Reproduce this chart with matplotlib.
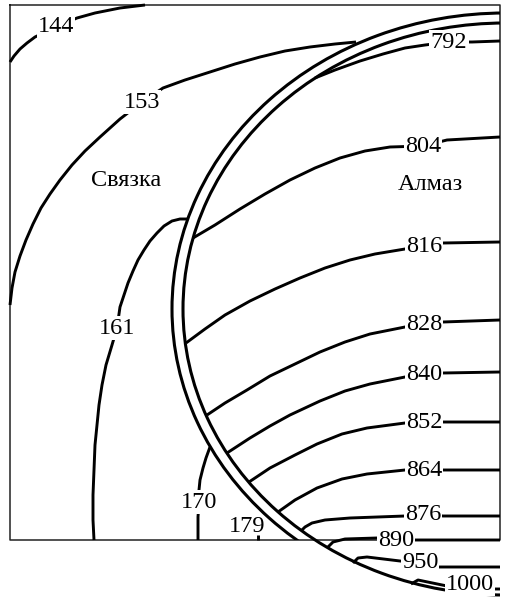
import matplotlib
matplotlib.use("Agg")
import matplotlib.pyplot as plt
from matplotlib.patches import Arc, Rectangle

# isotherms, points (x, y in image pixels, y downwards)
iso_144 = [(10, 62), (14, 56), (20, 49), (27, 43), (35, 37), (56, 27), (77, 18), (95, 13),
           (120, 8), (145, 5)]
iso_153 = [(10, 305), (12, 288), (15, 272), (20, 256), (26, 240), (33, 224), (41, 208),
           (50, 194), (60, 180), (72, 165), (85, 151), (100, 137), (120, 119), (142, 102),
           (163, 88), (185, 80), (210, 72), (235, 64), (260, 57), (285, 51), (310, 47),
           (335, 44), (356, 42)]
iso_161 = [(187, 219), (180, 219), (172, 221), (164, 226), (157, 233), (150, 241), (144, 250),
           (138, 260), (133, 271), (128, 283), (124, 295), (120, 307), (117, 328), (112, 345),
           (106, 365), (102, 385), (99, 405), (97, 425), (95, 445), (94, 470), (93, 495),
           (93, 520), (94, 540)]
iso_170 = [(210, 447), (206, 458), (203, 468), (200, 480), (199, 490), (199, 502), (198, 517),
           (198, 540)]
iso_179 = [(258, 535), (258, 540)]

iso_792 = [(315, 78), (335, 70), (360, 61), (383, 54), (405, 48), (425, 45), (449, 42),
           (472, 42), (500, 41)]
iso_804 = [(193, 238), (215, 225), (240, 209), (265, 194), (290, 180), (315, 168), (340, 158),
           (365, 151), (390, 147), (423, 146), (447, 140), (500, 137)]
iso_816 = [(186, 343), (205, 329), (225, 315), (250, 301), (275, 289), (300, 278), (325, 268),
           (350, 260), (375, 254), (405, 249), (424, 246), (443, 243), (500, 242)]
iso_828 = [(207, 415), (225, 403), (247, 390), (270, 376), (295, 364), (320, 352), (345, 342),
           (370, 334), (405, 327), (424, 325), (443, 322), (500, 320)]
iso_840 = [(227, 453), (250, 438), (270, 426), (290, 415), (320, 401), (345, 391), (370, 384),
           (405, 377), (424, 375), (443, 373), (500, 372)]
iso_852 = [(249, 482), (270, 468), (295, 455), (317, 444), (342, 434), (367, 428), (405, 423),
           (424, 423), (443, 422), (500, 422)]
iso_864 = [(278, 512), (295, 500), (317, 488), (342, 479), (367, 474), (405, 470), (424, 470),
           (443, 470), (500, 470)]
iso_876 = [(301, 531), (305, 527), (312, 523), (325, 520), (350, 518), (405, 516), (423, 514),
           (443, 516), (500, 516)]
iso_890 = [(327, 548), (333, 542), (345, 539), (377, 538), (396, 540), (417, 540), (500, 540)]
iso_950 = [(353, 563), (358, 558), (367, 557), (400, 561), (420, 563), (438, 567), (500, 567)]
iso_1000 = [(411, 584), (418, 580), (447, 586), (470, 584), (493, 589), (500, 589)]

isotherms = [iso_144, iso_153, iso_161, iso_170, iso_179, iso_792, iso_804, iso_816,
             iso_828, iso_840, iso_852, iso_864, iso_876, iso_890, iso_950, iso_1000]
labels = ["144", "153", "161", "170", "179", "792", "804", "816",
          "828", "840", "852", "864", "876", "890", "950", "1000"]
label_xy = [(56, 27), (142, 102), (117, 328), (199, 502), (247, 526), (449, 42), (423, 147),
            (424, 246), (424, 325), (424, 375), (424, 423), (424, 470), (423, 514), (396, 540),
            (420, 563), (470, 584)]

# diamond grain: two ellipse outlines (image is stretched)
grain_center = (505, 309)
outer_size = (666, 592)
inner_size = (644, 572)

fig = plt.figure(figsize=(5.09, 5.97), dpi=100)
ax = fig.add_axes([0, 0, 1, 1])
ax.set_xlim(0, 509)
ax.set_ylim(597, 0)
ax.axis("off")

# frame
ax.plot([10, 500, 500, 10, 10], [5, 5, 540, 540, 5], color="#222222", lw=1.1, zorder=1)

for pts in isotherms:
    xs = [p[0] for p in pts]
    ys = [p[1] for p in pts]
    ax.plot(xs, ys, color="black", lw=2.1, solid_capstyle="butt", solid_joinstyle="round", zorder=2)

outer = Arc(grain_center, outer_size[0], outer_size[1], theta1=0, theta2=360,
            color="black", lw=2.2, zorder=3)
ax.add_patch(outer)
outer.set_clip_path(Rectangle((10, 5), 490, 535, transform=ax.transData))

inner = Arc(grain_center, inner_size[0], inner_size[1], theta1=0, theta2=360,
            color="black", lw=2.2, zorder=3)
ax.add_patch(inner)
inner.set_clip_path(Rectangle((10, 5), 490, 600, transform=ax.transData))

for txt, (x, y) in zip(labels, label_xy):
    box = dict(facecolor="white", edgecolor="none", pad=0.8)
    if txt == "179":
        box = None
    ax.text(x, y, txt, ha="center", va="center", fontsize=17.5, family="Liberation Serif",
            bbox=box, zorder=4)

ax.text(126, 181, "Связка", ha="center", va="center", fontsize=17.5, family="Liberation Serif")
ax.text(430, 185, "Алмаз", ha="center", va="center", fontsize=17.5, family="Liberation Serif")

fig.savefig("out.png", dpi=100)
